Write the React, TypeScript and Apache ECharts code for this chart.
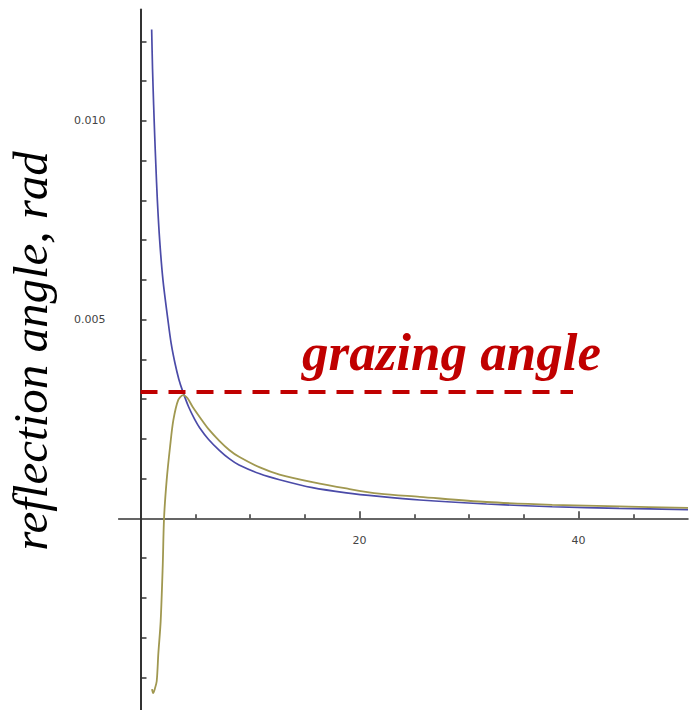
import React, { useEffect, useRef } from "react";
import * as echarts from "echarts";

const blueX = [1.02, 1.1, 1.2, 1.3, 1.4, 1.54, 1.75, 2.05, 2.5, 2.8, 3.15, 3.5, 3.85, 4.4, 4.95, 5.4, 6.2, 7.2, 8.1, 9.0, 10.9, 12.7, 15.7, 18.8, 21.8, 25.5, 31.6, 37.6, 43.7, 50];
const blueY = [0.0123, 0.0113, 0.0104, 0.0096, 0.0089, 0.008, 0.007, 0.006, 0.005, 0.0044, 0.0039, 0.0035, 0.0032, 0.0028, 0.00249, 0.00228, 0.00199, 0.00171, 0.0015, 0.00134, 0.00112, 0.00097, 0.00077, 0.00064, 0.00055, 0.00046, 0.00036, 0.00029, 0.00025, 0.00022];

const yellowX = [1.05, 1.15, 1.3, 1.48, 1.63, 1.84, 2.03, 2.15, 2.39, 2.7, 3.0, 3.45, 3.9, 4.3, 4.77, 5.4, 6.2, 7.2, 8.1, 9.04, 10.9, 12.7, 15.7, 18.8, 21.8, 25.5, 31.6, 37.6, 43.7, 50];
const yellowY = [-0.0043, -0.0044, -0.0043, -0.0041, -0.0034, -0.0026, -0.0012, 0, 0.00096, 0.0018, 0.00247, 0.00298, 0.0031, 0.00302, 0.0028, 0.00255, 0.00225, 0.00195, 0.00172, 0.00154, 0.00128, 0.0011, 0.00091, 0.00075, 0.00062, 0.00054, 0.00041, 0.00034, 0.0003, 0.00026];

const grazingX = [0, 39.5];
const grazingY = [0.00318, 0.00318];

const xMajorTicks = [20, 40];
const xMinorTicks = [5, 10, 15, 25, 30, 35, 45];
const xLabels = [20, 40];
const yTicks = [-0.004, -0.003, -0.002, -0.001, 0.001, 0.002, 0.003, 0.004, 0.005, 0.006, 0.007, 0.008, 0.009, 0.01, 0.011, 0.012];
const yLabels = [0.005, 0.01];

const yTitle = "reflection angle, rad";
const annotation = "grazing angle";

const zip = (xs: number[], ys: number[]) => xs.map((x, i) => [x, ys[i]]);

const Y_MIN = -0.005;
const Y_MAX = 0.0128;
const GRID_TOP = 9.6;
const GRID_H = 707.4;

export default function App() {
  const ref = useRef<HTMLDivElement>(null);
  useEffect(() => {
    const chart = echarts.init(ref.current!, null, { renderer: "svg" });
    const axisColor = "#333";
    const labelStyle = { fontSize: 11, fontFamily: "DejaVu Sans", color: "#444" };
    // distance from grid bottom up to the value 0 on the y scale
    const zeroOffset = -(0 - Y_MIN) / (Y_MAX - Y_MIN) * GRID_H;
    chart.setOption({
      animation: false,
      grid: { left: 118.6, top: GRID_TOP, width: 569.4, height: GRID_H, containLabel: false, outerBoundsMode: "none" },
      xAxis: [
        {
          type: "value", min: -2, max: 50, position: "bottom", offset: zeroOffset,
          axisLine: { onZero: false, lineStyle: { color: axisColor, width: 1.5 } },
          axisTick: { inside: true, length: 7, customValues: xMajorTicks, lineStyle: { color: axisColor, width: 1.5 } },
          axisLabel: { customValues: xLabels, margin: 17, ...labelStyle },
          splitLine: { show: false },
        },
        {
          type: "value", min: -2, max: 50, position: "bottom", offset: zeroOffset,
          axisLine: { show: false, onZero: false },
          axisTick: { inside: true, length: 4, customValues: xMinorTicks, lineStyle: { color: axisColor, width: 1.5 } },
          axisLabel: { show: false },
          splitLine: { show: false },
        },
      ],
      yAxis: {
        type: "value", min: Y_MIN, max: Y_MAX,
        axisLine: { onZero: true, onZeroAxisIndex: 0, lineStyle: { color: axisColor, width: 2 } },
        axisTick: { inside: true, length: 6, customValues: yTicks, lineStyle: { color: axisColor, width: 1.5 } },
        axisLabel: { customValues: yLabels, margin: 13, formatter: (v: number) => v.toFixed(3), ...labelStyle },
        splitLine: { show: false },
      },
      series: [
        {
          type: "line", data: zip(blueX, blueY), symbol: "none", smooth: 0.3,
          lineStyle: { color: "#4b4ba8", width: 1.7 },
        },
        {
          type: "line", data: zip(yellowX, yellowY), symbol: "none", smooth: 0.3,
          lineStyle: { color: "#a09850", width: 1.8 },
        },
        {
          type: "line", data: zip(grazingX, grazingY), symbol: "none",
          lineStyle: { color: "#c00000", width: 4, type: [17, 11] },
        },
      ],
      graphic: [
        {
          type: "text", x: 30, y: 351, rotation: Math.PI / 2,
          style: {
            text: yTitle, font: 'italic 49px "Liberation Serif"', fill: "#000",
            align: "center", verticalAlign: "middle",
          },
        },
        {
          type: "text", x: 302, y: 352,
          style: {
            text: annotation, font: 'italic bold 53px "Liberation Serif"', fill: "#c00000",
            align: "left", verticalAlign: "middle",
          },
        },
      ],
    });
    return () => chart.dispose();
  }, []);
  return <div ref={ref} style={{ position: "absolute", left: 0, top: 0, width: 689, height: 710 }} />;
}
